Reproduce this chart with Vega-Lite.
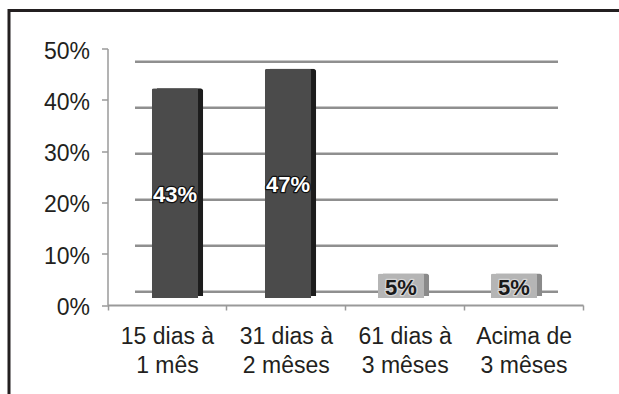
{
  "$schema": "https://vega.github.io/schema/vega-lite/v6.json",
  "width": 616,
  "height": 390,
  "autosize": {"type": "none"},
  "padding": {"left": 9, "top": 10.5, "right": -6, "bottom": -6.5},
  "background": "white",
  "config": {
    "view": {"stroke": "#231f20", "strokeWidth": 3},
    "font": "Liberation Sans",
    "axis": {"labelFont": "Liberation Sans", "labelColor": "#231f20", "labelFontSize": 23}
  },
  "data": {
    "values": [
      {"faixa": "15 dias à\n1 mês", "valor": 0.43},
      {"faixa": "31 dias à\n2 mêses", "valor": 0.47},
      {"faixa": "61 dias à\n3 mêses", "valor": 0.05},
      {"faixa": "Acima de\n3 mêses", "valor": 0.05}
    ]
  },
  "layer": [
    {
      "data": {"values": [{"nivel": 0}, {"nivel": 0.1}, {"nivel": 0.2}, {"nivel": 0.3}, {"nivel": 0.4}, {"nivel": 0.5}]},
      "mark": {"type": "rule", "color": "#8f8f8f", "strokeWidth": 2.5},
      "encoding": {
        "y": {"field": "nivel", "type": "quantitative", "scale": {"domain": [0, 0.5], "range": [281.2, 51.2], "nice": false, "zero": false}, "axis": null},
        "x": {"datum": 0, "type": "quantitative", "scale": {"domain": [0, 1], "range": [126, 549], "nice": false}, "axis": null},
        "x2": {"datum": 1}
      }
    },
    {
      "mark": {"type": "bar", "opacity": 0},
      "encoding": {
        "x": {
          "field": "faixa", "type": "nominal", "sort": null,
          "scale": {"range": [98.5, 574], "paddingInner": 0, "paddingOuter": 0},
          "axis": {
            "title": null, "labelAngle": 0, "tickBand": "extent",
            "labelExpr": "split(datum.label, '\\n')",
            "labelPadding": 15, "labelLineHeight": 29, "labelBaseline": "top",
            "tickSize": 5, "tickColor": "#9a9a9a", "tickWidth": 1.5,
            "domainColor": "#9a9a9a", "domainWidth": 2, "offset": -95.5
          }
        },
        "y": {
          "field": "valor", "type": "quantitative",
          "scale": {"domain": [0, 0.5], "range": [294.5, 38], "nice": false},
          "axis": {
            "title": null, "format": ".0%", "values": [0, 0.1, 0.2, 0.3, 0.4, 0.5],
            "grid": false, "offset": -98.5, "labelPadding": 12, "labelOffset": 2.5,
            "tickSize": 6, "tickColor": "#9a9a9a", "tickWidth": 1.5,
            "domainColor": "#9a9a9a", "domainWidth": 1.5
          }
        }
      }
    },
    {
      "mark": {"type": "bar", "xOffset": 5, "yOffset": -2, "cornerRadiusTopRight": 3},
      "encoding": {
        "x": {"field": "faixa", "type": "nominal", "sort": null, "scale": {"range": [109.5, 561.5], "paddingInner": 0.59, "paddingOuter": 0.295}, "axis": null},
        "y": {"field": "valor", "type": "quantitative", "scale": {"domain": [0, 0.5], "range": [287.5, 43.6], "nice": false}, "axis": null},
        "color": {"condition": {"test": "datum.valor > 0.1", "value": "#1c1c1c"}, "value": "#8a8a8a"}
      }
    },
    {
      "mark": {"type": "bar", "cornerRadiusTopLeft": 2, "cornerRadiusTopRight": 2},
      "encoding": {
        "x": {"field": "faixa", "type": "nominal", "sort": null, "scale": {"range": [109.5, 561.5], "paddingInner": 0.59, "paddingOuter": 0.295}, "axis": null},
        "y": {"field": "valor", "type": "quantitative", "scale": {"domain": [0, 0.5], "range": [287.5, 43.6], "nice": false}, "axis": null},
        "color": {"condition": {"test": "datum.valor > 0.1", "value": "#4b4b4b"}, "value": "#b5b5b5"}
      }
    },
    {
      "mark": {"type": "text", "fontSize": 22, "fontWeight": "bold", "strokeWidth": 2.5, "strokeJoin": "round", "baseline": "middle", "dy": 2},
      "encoding": {
        "x": {"field": "faixa", "type": "nominal", "sort": null, "scale": {"range": [109.5, 561.5], "paddingInner": 0.59, "paddingOuter": 0.295}, "axis": null},
        "y": {"field": "valor", "type": "quantitative", "scale": {"domain": [0, 1], "range": [287.5, 43.6], "nice": false}, "axis": null},
        "text": {"field": "valor", "type": "quantitative", "format": ".0%"},
        "stroke": {"condition": {"test": "datum.valor > 0.1", "value": "#111111"}, "value": "#d6d6d6"},
        "color": {"condition": {"test": "datum.valor > 0.1", "value": "#111111"}, "value": "#d6d6d6"}
      }
    },
    {
      "mark": {"type": "text", "fontSize": 22, "fontWeight": "bold", "baseline": "middle", "dy": 2},
      "encoding": {
        "x": {"field": "faixa", "type": "nominal", "sort": null, "scale": {"range": [109.5, 561.5], "paddingInner": 0.59, "paddingOuter": 0.295}, "axis": null},
        "y": {"field": "valor", "type": "quantitative", "scale": {"domain": [0, 1], "range": [287.5, 43.6], "nice": false}, "axis": null},
        "text": {"field": "valor", "type": "quantitative", "format": ".0%"},
        "color": {"condition": {"test": "datum.valor > 0.1", "value": "#ffffff"}, "value": "#1a1a1a"}
      }
    }
  ],
  "resolve": {
    "scale": {"x": "independent", "y": "independent", "color": "independent", "stroke": "independent"},
    "axis": {"x": "independent", "y": "independent"}
  }
}
